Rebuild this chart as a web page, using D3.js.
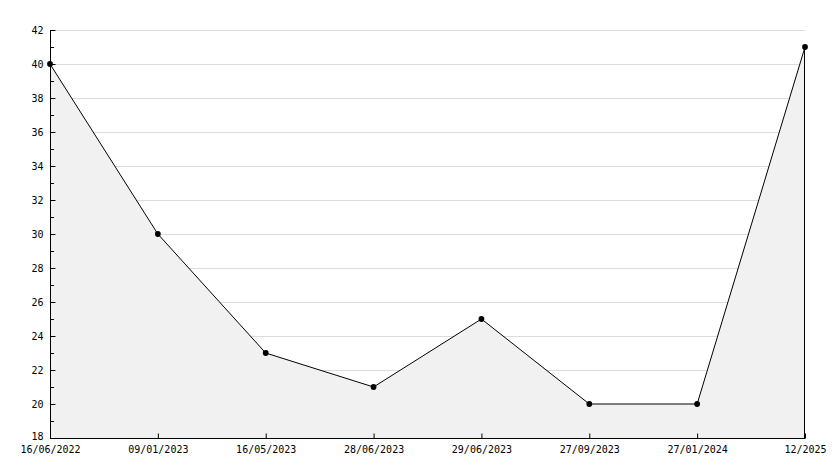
<!DOCTYPE html>
<html>
<head>
<meta charset="utf-8">
<script src="https://cdn.jsdelivr.net/npm/d3@7"></script>
<style>
  body { margin: 0; background: #fff; }
  text { font-family: "DejaVu Sans Mono", monospace; font-size: 10px; fill: #000; }
</style>
</head>
<body>
<div id="chart"></div>
<script>
// data
const dates = ["16/06/2022", "09/01/2023", "16/05/2023", "28/06/2023", "29/06/2023", "27/09/2023", "27/01/2024", "12/2025"];
const values = [40, 30, 23, 21, 25, 20, 20, 41];
const yMajorTicks = [18, 20, 22, 24, 26, 28, 30, 32, 34, 36, 38, 40, 42];
const yMinorTicks = [19, 21, 23, 25, 27, 29, 31, 33, 35, 37, 39, 41];

const W = 834, H = 468;
const margin = {top: 30, right: 29, bottom: 30, left: 50};

const svg = d3.select("#chart").append("svg")
  .attr("width", W).attr("height", H);

const x = d3.scalePoint()
  .domain(dates)
  .range([margin.left, W - margin.right]);
const y = d3.scaleLinear()
  .domain([18, 42])
  .range([H - margin.bottom, margin.top]);

const pts = dates.map((d, i) => ({date: d, value: values[i]}));

// grid
svg.append("g").selectAll("line")
  .data(yMajorTicks.filter(t => t > 18))
  .enter().append("line")
  .attr("x1", margin.left).attr("x2", W - margin.right)
  .attr("y1", d => Math.round(y(d)) + 0.5).attr("y2", d => Math.round(y(d)) + 0.5)
  .attr("stroke", "#dcdcdc");

// area
let area = d3.area()
  .x(d => x(d.date))
  .y0(y(18))
  .y1(d => y(d.value));
svg.append("path")
  .datum(pts)
  .attr("d", area)
  .attr("fill", "#f1f1f1");

// right edge of the area
svg.append("line")
  .attr("x1", x(dates[dates.length - 1]) - 0.5).attr("x2", x(dates[dates.length - 1]) - 0.5)
  .attr("y1", y(values[values.length - 1])).attr("y2", y(18))
  .attr("stroke", "#000");

// line
let line = d3.line()
  .x(d => x(d.date))
  .y(d => y(d.value));
svg.append("path")
  .datum(pts)
  .attr("d", line)
  .attr("fill", "none")
  .attr("stroke", "#000")
  .attr("stroke-width", 1);

// markers
svg.append("g").selectAll("path")
  .data(pts)
  .enter().append("path")
  .attr("d", d3.symbol().type(d3.symbolCircle).size(26))
  .attr("transform", d => `translate(${x(d.date)},${y(d.value)})`)
  .attr("fill", "#000");

// y axis
const yAxis = svg.append("g")
  .attr("transform", `translate(${margin.left + 0.5},0)`)
  .call(d3.axisLeft(y).tickValues(yMajorTicks).tickSize(-5).tickPadding(7).tickFormat(d3.format("d")));
yAxis.select(".domain").attr("d", `M0,${y(42)}V${y(18)}`);
yAxis.selectAll("text").attr("fill", "#000");
yAxis.selectAll(".tick").filter(d => d === 18).select("text").attr("dy", "0.1em");

svg.append("g").selectAll("line")
  .data(yMinorTicks)
  .enter().append("line")
  .attr("x1", margin.left).attr("x2", margin.left + 4)
  .attr("y1", d => Math.round(y(d)) + 0.5).attr("y2", d => Math.round(y(d)) + 0.5)
  .attr("stroke", "#000");

// x axis
const xAxis = svg.append("g")
  .attr("transform", `translate(0,${y(18) + 0.5})`)
  .call(d3.axisBottom(x).tickSize(-5).tickPadding(7));
xAxis.select(".domain").attr("d", `M${margin.left},0H${W - margin.right}`);
xAxis.selectAll("text").attr("fill", "#000");
</script>
</body>
</html>
